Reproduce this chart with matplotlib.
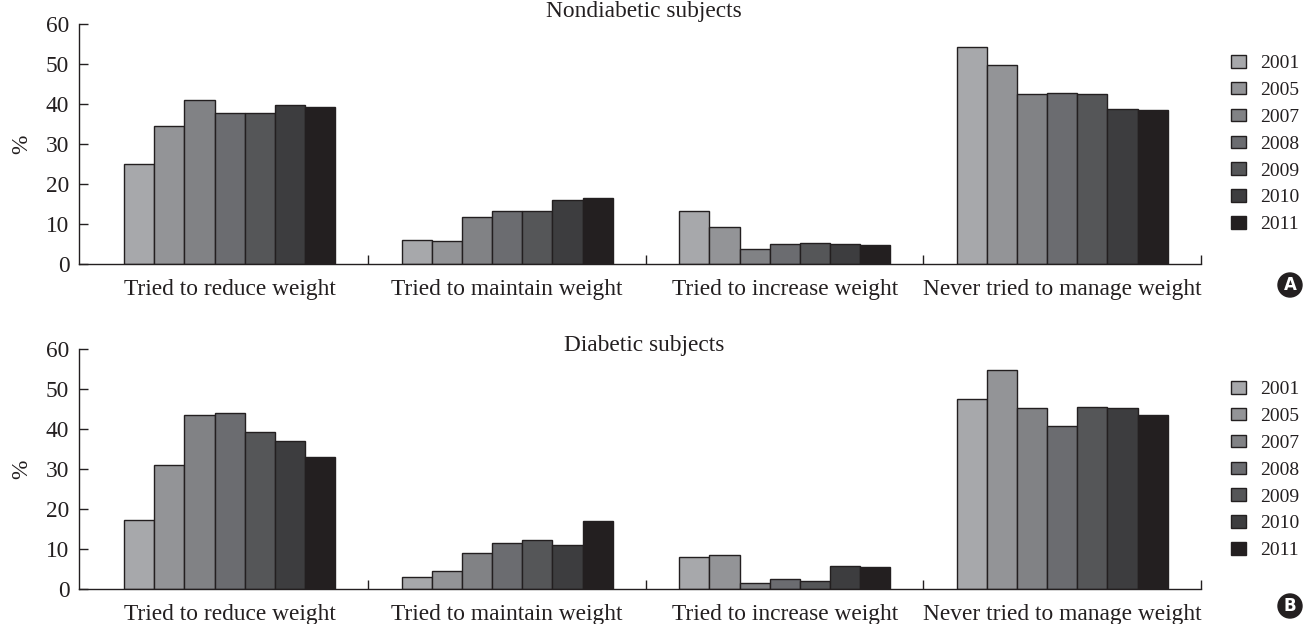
import matplotlib
matplotlib.use('agg')
import matplotlib.pyplot as plt
import numpy as np
from matplotlib.patches import Patch

categories = ['Tried to reduce weight', 'Tried to maintain weight',
              'Tried to increase weight', 'Never tried to manage weight']
years = ['2001', '2005', '2007', '2008', '2009', '2010', '2011']
colors = ['#a7a8ab', '#939497', '#818285', '#6b6c70', '#555658', '#3d3d3f', '#231f20']

# rows: years, columns: categories
nondiabetic = [
    [25.0, 6.1, 13.3, 54.2],
    [34.4, 5.8, 9.3, 49.7],
    [41.0, 11.8, 3.8, 42.5],
    [37.8, 13.3, 5.1, 42.8],
    [37.8, 13.3, 5.3, 42.4],
    [39.7, 15.9, 5.0, 38.7],
    [39.3, 16.6, 4.7, 38.6],
]
diabetic = [
    [17.3, 3.0, 7.9, 47.4],
    [31.1, 4.5, 8.4, 54.8],
    [43.5, 8.9, 1.4, 45.3],
    [44.1, 11.6, 2.6, 40.8],
    [39.2, 12.2, 2.1, 45.6],
    [36.9, 10.9, 5.8, 45.3],
    [32.9, 17.0, 5.6, 43.6],
]
titles = ['Nondiabetic subjects', 'Diabetic subjects']
panel_tags = ['A', 'B']

plt.rcParams['font.family'] = ['Liberation Serif', 'DejaVu Serif']
ink = '#231f20'
fs = 16.8

fig = plt.figure(figsize=(13.05, 6.24), dpi=100)
W, H = 1305.0, 624.0
# left px, zero-line px, top px, title px, legend top px, tag px
layout = [(79, 264, 24, 12, 55, 285), (79, 589, 349, 345, 381, 606)]
x = np.arange(len(categories))
bw = 0.1086

for k, (data, title, tag) in enumerate(zip([nondiabetic, diabetic], titles, panel_tags)):
    left, y0, y1, ty, ly, cy = layout[k]
    ax = fig.add_axes([left / W, 1 - y0 / H, (1201 - left) / W, (y0 - y1) / H])
    for i, (yr, col) in enumerate(zip(years, colors)):
        ax.bar(x + (i - 3) * bw, data[i], width=bw, color=col,
               edgecolor=ink, linewidth=1.0, label=yr, zorder=2)
    ax.set_xlim(-0.543, 3.5)
    ax.set_ylim(0, 60)
    ax.set_yticks(np.arange(0, 61, 10))
    ax.set_xticks(x)
    ax.set_xticklabels(categories, fontsize=fs, color=ink)
    ax.set_xticks(x + 0.5, minor=True)
    ax.tick_params(axis='x', which='major', length=0, pad=11)
    ax.tick_params(axis='x', which='minor', direction='in', length=6.5,
                   width=1.0, color=ink)
    ax.tick_params(axis='y', direction='in', length=6.5, width=1.0,
                   color=ink, labelsize=fs, labelcolor=ink, pad=7)
    for s in ['top', 'right']:
        ax.spines[s].set_visible(False)
    for s in ['left', 'bottom']:
        ax.spines[s].set_color(ink)
        ax.spines[s].set_linewidth(1.0)
    ax.set_ylabel('%', fontsize=fs, color=ink, labelpad=10)

    fig.text(644 / W, 1 - ty / H, title, ha='center', va='center',
             fontsize=fs, color=ink)

    handles = [Patch(facecolor=c, edgecolor=ink, linewidth=1.0) for c in colors]
    fig.legend(handles, years, loc='upper left',
               bbox_to_anchor=(1231 / W, 1 - ly / H), frameon=False,
               handlelength=0.77, handleheight=0.62, handletextpad=0.72,
               labelspacing=0.5, fontsize=14, labelcolor=ink,
               borderpad=0, borderaxespad=0)

    fig.text(1290 / W, 1 - cy / H, tag, ha='center', va='center',
             fontsize=12, fontweight='bold', color='white',
             family='DejaVu Sans',
             bbox=dict(boxstyle='circle,pad=0.18', facecolor=ink,
                       edgecolor=ink))

fig.savefig('out.png', dpi=100)
